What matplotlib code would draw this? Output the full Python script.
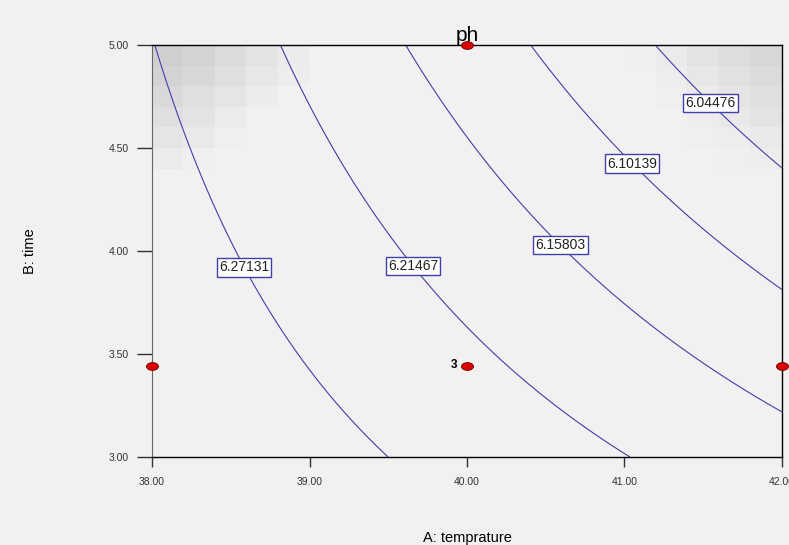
import numpy as np
import matplotlib.pyplot as plt
from matplotlib.colors import LinearSegmentedColormap
from matplotlib.path import Path

plt.rcParams['font.family'] = ['Liberation Sans', 'DejaVu Sans']

# contour levels shown on the chart
levels = [6.04476, 6.10139, 6.15803, 6.21467, 6.27131]

# points (A: temprature, B: time)
trace_a = {
    6.27131: [38.02, 38.20, 38.41, 38.60, 38.83, 39.15, 39.50],
    6.21467: [38.81, 39.00, 39.30, 39.60, 40.02, 40.38, 41.01],
    6.15803: [39.62, 40.00, 40.27, 40.59, 41.01, 41.54, 42.00],
    6.10139: [40.41, 40.65, 40.97, 41.33, 42.00],
    6.04476: [41.20, 41.48, 42.00],
}
trace_b = {
    6.27131: [4.99, 4.62, 4.17, 3.89, 3.60, 3.29, 3.00],
    6.21467: [4.99, 4.70, 4.33, 3.99, 3.60, 3.37, 3.00],
    6.15803: [4.99, 4.56, 4.30, 4.02, 3.75, 3.47, 3.21],
    6.10139: [4.99, 4.78, 4.47, 4.18, 3.81],
    6.04476: [4.99, 4.78, 4.41],
}

# where the boxed labels sit
label_pos = [(41.56, 4.73), (41.07, 4.44), (40.61, 4.04), (39.66, 3.93), (38.61, 3.93)]

# design points
design_a = [38.0, 40.0, 42.0, 40.0]
design_b = [3.44, 3.44, 3.44, 5.0]

# gray shading in the top corners (20 x 20 grid, row 0 = top)
shade_tl = [
    [0.85, 0.75, 0.55, 0.35, 0.15],
    [0.75, 0.62, 0.45, 0.25, 0.08],
    [0.60, 0.45, 0.30, 0.12, 0.00],
    [0.45, 0.32, 0.15, 0.00, 0.00],
    [0.30, 0.18, 0.05, 0.00, 0.00],
    [0.15, 0.05, 0.00, 0.00, 0.00],
]
shade_tr = [
    [0.05, 0.15, 0.35, 0.50, 0.65],
    [0.00, 0.10, 0.25, 0.40, 0.55],
    [0.00, 0.05, 0.15, 0.30, 0.45],
    [0.00, 0.00, 0.08, 0.20, 0.35],
    [0.00, 0.00, 0.03, 0.10, 0.20],
    [0.00, 0.00, 0.00, 0.05, 0.10],
]

bg = '#f2f0f0'
line_col = '#4040a8'


def fit_surface():
    """ quadratic response surface fitted to the traced contour points """
    rows, y = [], []
    for lev in levels:
        for a, b in zip(trace_a[lev], trace_b[lev]):
            x1, x2 = (a - 40) / 2, b - 4
            rows.append([1, x1, x2, x1 * x2, x1 ** 2, x2 ** 2])
            y.append(lev)
    coef, *_ = np.linalg.lstsq(np.array(rows), np.array(y), rcond=None)
    return coef


coef = fit_surface()
A, B = np.meshgrid(np.linspace(38, 42, 300), np.linspace(3, 5, 300))
x1, x2 = (A - 40) / 2, B - 4
Z = (coef[0] + coef[1] * x1 + coef[2] * x2 + coef[3] * x1 * x2
     + coef[4] * x1 ** 2 + coef[5] * x2 ** 2)

shade = np.zeros((20, 20))
shade[:len(shade_tl), :5] = shade_tl
shade[:len(shade_tr), 15:] = shade_tr

fig = plt.figure(figsize=(7.89, 5.45), dpi=100)
fig.patch.set_facecolor(bg)
ax = fig.add_axes([0.1927, 0.1615, 0.7984, 0.7559])
ax.set_facecolor(bg)

gray_map = LinearSegmentedColormap.from_list('sh', [bg, '#cbc9c9'])
ax.imshow(shade, extent=[38, 42, 3, 5], origin='upper', aspect='auto',
          cmap=gray_map, vmin=0, vmax=1, interpolation='nearest', zorder=0)

cs = ax.contour(A, B, Z, levels=levels, colors=line_col, linewidths=0.8, zorder=1)
texts = ax.clabel(cs, inline=False, manual=label_pos, fmt=lambda v: '%.5f' % v,
                  fontsize=10)
for t in texts:
    t.set_rotation(0)
    t.set_color('#222222')
    t.set_bbox(dict(boxstyle='square,pad=0.15', fc='white', ec=line_col, lw=1))
    t.set_zorder(3)

# flattened oval marker like the reference dots
circ = Path.unit_circle()
oval = Path(circ.vertices * [1.0, 0.65], circ.codes)
ax.scatter(design_a, design_b, s=75, marker=oval, color='#dd0000',
           edgecolors='#660000', linewidths=0.6, zorder=4, clip_on=False)
ax.text(39.935, 3.445, '3', ha='right', va='center', fontsize=8.5,
        color='black', fontweight='bold')

ax.set_xlim(38, 42)
ax.set_ylim(3, 5)
ax.set_xticks([38, 39, 40, 41, 42])
ax.set_xticklabels(['38.00', '39.00', '40.00', '41.00', '42.00'])
ax.set_yticks([3.0, 3.5, 4.0, 4.5, 5.0])
ax.set_yticklabels(['3.00', '3.50', '4.00', '4.50', '5.00'])
ax.tick_params(axis='x', direction='out', length=7.5, width=1, pad=7,
               labelsize=7.5, colors='#333333')
ax.tick_params(axis='y', direction='out', length=10.5, width=1, pad=6,
               labelsize=7.5, colors='#333333')

for side in ['top', 'right', 'bottom']:
    ax.spines[side].set_color('black')
    ax.spines[side].set_linewidth(1)
ax.spines['left'].set_color('#666666')

ax.set_title('ph', fontsize=15, pad=3)
fig.text(0.593, 0.0, 'A: temprature', ha='center', va='bottom', fontsize=10.5)
fig.text(0.038, 0.54, 'B: time', ha='center', va='center', rotation=90, fontsize=10.5)

fig.savefig('out.png', dpi=100, facecolor=bg)
